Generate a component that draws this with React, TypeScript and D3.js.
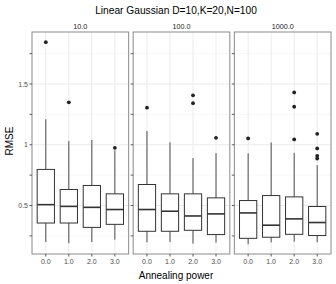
import React from "react";
import * as d3 from "d3";

const facets = ["10.0", "100.0", "1000.0"];
const powers = ["0.0", "1.0", "2.0", "3.0"];
// [lowerWhisker, q1, median, q3, upperWhisker] per facet, per power
const stats10 = [
  [0.2, 0.356, 0.507, 0.797, 1.21],
  [0.19, 0.356, 0.493, 0.632, 1.03],
  [0.2, 0.32, 0.485, 0.665, 1.04],
  [0.22, 0.345, 0.467, 0.596, 0.955],
];
const stats100 = [
  [0.197, 0.288, 0.467, 0.673, 1.113],
  [0.2, 0.288, 0.453, 0.596, 1.02],
  [0.187, 0.296, 0.414, 0.596, 0.89],
  [0.195, 0.261, 0.431, 0.563, 0.931],
];
const stats1000 = [
  [0.181, 0.23, 0.439, 0.541, 0.929],
  [0.197, 0.239, 0.338, 0.582, 1.019],
  [0.203, 0.263, 0.39, 0.571, 0.934],
  [0.197, 0.253, 0.36, 0.492, 0.832],
];
const outliers10 = [[1.844], [1.349], [], [0.975]];
const outliers100 = [[1.305], [], [1.407, 1.342], [1.057]];
const outliers1000 = [[1.052], [], [1.431, 1.313, 1.044], [1.09, 0.97, 0.909, 0.887]];
const yMajor = [0.5, 1, 1.5];
const yMajorLabels = ["0.5", "1", "1.5"];
const yMinor = [0.25, 0.75, 1.25, 1.75];

const title = "Linear Gaussian D=10,K=20,N=100";
const xTitle = "Annealing power";
const yTitle = "RMSE";

const allStats = [stats10, stats100, stats1000];
const allOutliers = [outliers10, outliers100, outliers1000];

export default function App() {
  const W = 336, H = 284;
  const left = 32, right = 331, top = 32, bottom = 254;
  const gap = 4.5;
  const panelW = (right - left - 2 * gap) / 3;
  const y = d3.scaleLinear().domain([0.101, 1.928]).range([bottom, top]);
  const font = "Liberation Sans, Arial, Helvetica, sans-serif";

  return (
    <svg width={W} height={H} style={{ position: "absolute", left: 0, top: 0, background: "#fff" }} fontFamily={font}>
      <rect x={0} y={0} width={W} height={H} fill="#fff" />
      <text x={176} y={14} textAnchor="middle" fontSize={10.2} fill="#000">{title}</text>
      {facets.map((f, fi) => {
        const px = left + fi * (panelW + gap);
        const x = d3.scalePoint<string>().domain(powers).range([px, px + panelW]).padding(0.6);
        const bw = x.step() * 0.75;
        return (
          <g key={f}>
            <text x={px + panelW / 2} y={29} textAnchor="middle" fontSize={7.2} fill="#1a1a1a">{f}</text>
            {yMinor.map((v) => (
              <line key={"mn" + v} x1={px} x2={px + panelW} y1={y(v)} y2={y(v)} stroke="#f2f2f2" strokeWidth={0.6} />
            ))}
            {yMajor.map((v) => (
              <line key={"mj" + v} x1={px} x2={px + panelW} y1={y(v)} y2={y(v)} stroke="#ebebeb" strokeWidth={1} />
            ))}
            {powers.map((p) => (
              <line key={"vg" + p} x1={x(p)} x2={x(p)} y1={top} y2={bottom} stroke="#ebebeb" strokeWidth={1} />
            ))}
            {powers.map((p, i) => {
              const [lo, q1, med, q3, hi] = allStats[fi][i];
              const c = x(p) as number;
              return (
                <g key={"b" + p}>
                  <line x1={c} x2={c} y1={y(hi)} y2={y(q3)} stroke="#4d4d4d" strokeWidth={1} />
                  <line x1={c} x2={c} y1={y(q1)} y2={y(lo)} stroke="#4d4d4d" strokeWidth={1} />
                  <rect x={c - bw / 2} y={y(q3)} width={bw} height={y(q1) - y(q3)} fill="#fff" stroke="#333" strokeWidth={1} />
                  <line x1={c - bw / 2} x2={c + bw / 2} y1={y(med)} y2={y(med)} stroke="#333" strokeWidth={1.6} />
                  {allOutliers[fi][i].map((o, k) => (
                    <circle key={k} cx={c} cy={y(o)} r={1.9} fill="#222" />
                  ))}
                </g>
              );
            })}
            <rect x={px} y={top} width={panelW} height={bottom - top} fill="none" stroke="#8a8a8a" strokeWidth={1} />
            {[...yMajor, ...yMinor].map((v) => (
              <line key={"t" + v} x1={px - 2.5} x2={px} y1={y(v)} y2={y(v)} stroke="#333" strokeWidth={0.8} />
            ))}
            {powers.map((p) => (
              <g key={"xt" + p}>
                <line x1={x(p)} x2={x(p)} y1={bottom} y2={bottom + 2.5} stroke="#333" strokeWidth={0.8} />
                <text x={x(p)} y={264} textAnchor="middle" fontSize={7} fill="#4d4d4d">{p}</text>
              </g>
            ))}
          </g>
        );
      })}
      {yMajor.map((v, i) => (
        <text key={"yl" + v} x={28} y={y(v) + 2.5} textAnchor="end" fontSize={7} fill="#4d4d4d">{yMajorLabels[i]}</text>
      ))}
      <text x={176} y={279} textAnchor="middle" fontSize={10} fill="#000">{xTitle}</text>
      <text transform={`translate(13,141) rotate(-90)`} textAnchor="middle" fontSize={10} fill="#000">{yTitle}</text>
    </svg>
  );
}
